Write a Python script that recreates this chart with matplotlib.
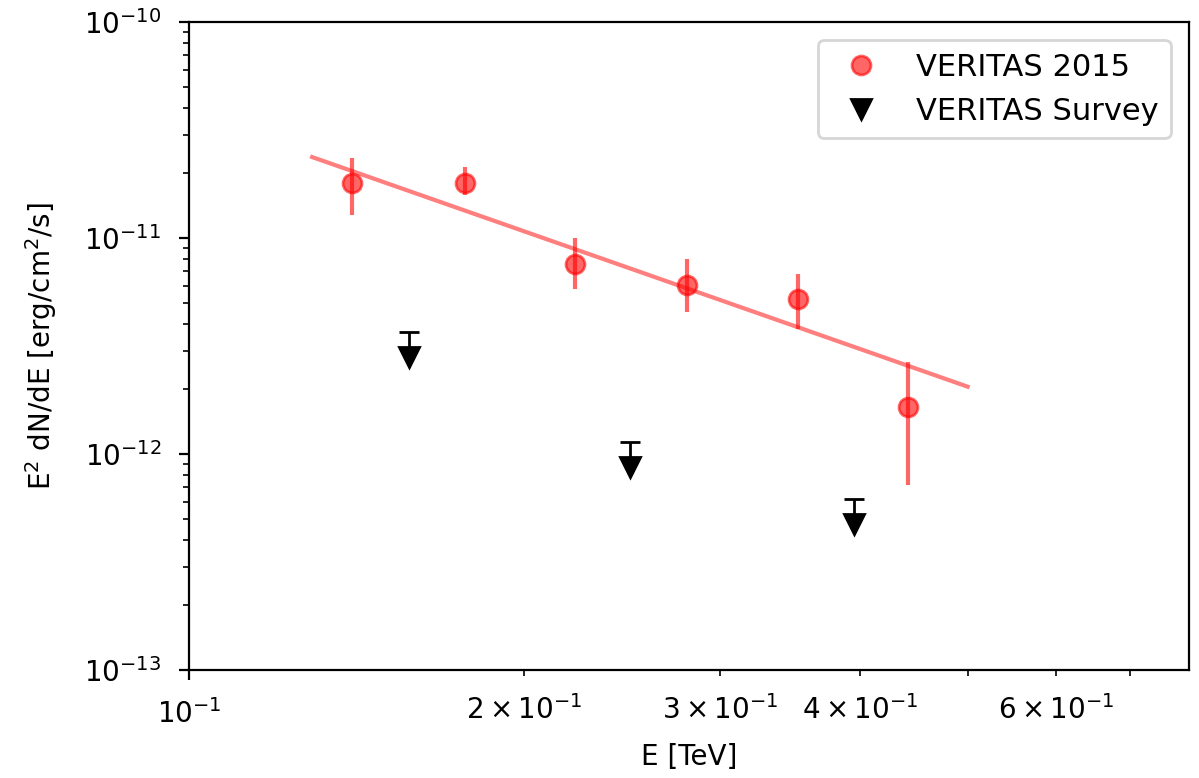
import matplotlib
matplotlib.use("Agg")
import matplotlib.pyplot as plt

# VERITAS 2015 spectral points (E in TeV, E^2 dN/dE in erg/cm^2/s)
e_2015 = [0.140, 0.177, 0.222, 0.280, 0.352, 0.442]
flux_2015 = [1.80e-11, 1.80e-11, 7.6e-12, 6.05e-12, 5.2e-12, 1.65e-12]
err_lo_2015 = [0.52e-11, 0.22e-11, 1.8e-12, 1.5e-12, 1.4e-12, 0.93e-12]
err_hi_2015 = [0.54e-11, 0.33e-11, 2.4e-12, 1.95e-12, 1.6e-12, 1.02e-12]

# power law fit, end points
fit_e = [0.129, 0.50]
fit_flux = [2.37e-11, 2.05e-12]

# VERITAS survey upper limits
e_survey = [0.1577, 0.249, 0.395]
ul_survey = [3.67e-12, 1.14e-12, 6.2e-13]
marker_survey = [2.81e-12, 8.7e-13, 4.74e-13]

fig = plt.figure(figsize=(5.995, 3.89), dpi=200)
ax = fig.add_axes([0.1576, 0.1388, 0.834, 0.8329])

ax.plot(fit_e, fit_flux, color="red", alpha=0.5)
ax.errorbar(e_2015, flux_2015, yerr=[err_lo_2015, err_hi_2015], fmt="o",
            color="red", alpha=0.6, markersize=6.8, label="VERITAS 2015")

# upper limits: stem, cap on top, down triangle
up = [u - m for u, m in zip(ul_survey, marker_survey)]
ax.errorbar(e_survey, marker_survey, yerr=[[0] * len(up), up], fmt="v",
            color="black", elinewidth=1, markersize=7, label="VERITAS Survey")
ax.plot(e_survey, ul_survey, "_", color="black", markersize=7.5, mew=1)

ax.set_xscale("log")
ax.set_yscale("log")
ax.set_xlim(0.1, 0.79)
ax.set_ylim(1e-13, 1e-10)
ax.tick_params(axis="y", which="major", pad=6.5)
ax.tick_params(axis="x", which="both", pad=7)
ax.set_xlabel("E [TeV]", labelpad=5)
ax.set_ylabel("E$^2$ dN/dE [erg/cm$^2$/s]", labelpad=9)

# legend shows markers only
h, l = ax.get_legend_handles_labels()
ax.legend([hh[0] for hh in h], l, loc="upper right", fontsize=11,
          borderaxespad=0.6)

fig.savefig("out.png", dpi=200)
